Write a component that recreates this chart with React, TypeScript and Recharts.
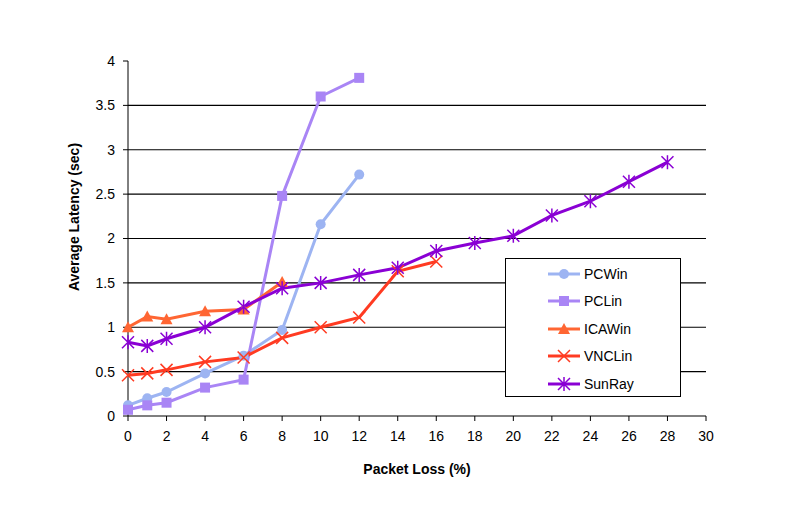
import { CartesianGrid, Label, Line, LineChart, XAxis, YAxis } from "recharts";

const loss = [0, 1, 2, 4, 6, 8, 10, 12, 14, 16, 18, 20, 22, 24, 26, 28];
const pcWin = [0.12, 0.2, 0.27, 0.48, 0.68, 0.97, 2.16, 2.72];
const pcLin = [0.07, 0.12, 0.15, 0.32, 0.41, 2.48, 3.6, 3.81];
const icaWin = [1.0, 1.12, 1.09, 1.18, 1.2, 1.51];
const vncLin = [0.46, 0.48, 0.52, 0.61, 0.66, 0.88, 1.0, 1.11, 1.63, 1.74];
const sunRay = [0.83, 0.79, 0.87, 1.0, 1.23, 1.44, 1.5, 1.59, 1.67, 1.86, 1.95, 2.03, 2.26, 2.42, 2.64, 2.86];
const xTicks = [0, 2, 4, 6, 8, 10, 12, 14, 16, 18, 20, 22, 24, 26, 28, 30];
const yTicks = [0, 0.5, 1, 1.5, 2, 2.5, 3, 3.5, 4];
const gridY = [0.5, 1, 1.5, 2, 2.5, 3, 3.5];

const dados = loss.map((x, i) => ({
  x,
  PCWin: pcWin[i],
  PCLin: pcLin[i],
  ICAWin: icaWin[i],
  VNCLin: vncLin[i],
  SunRay: sunRay[i],
}));

const font = "'Liberation Sans', Arial, sans-serif";

// markers
const Circle = (p: any) =>
  p.cx == null || p.cy == null ? null : <circle key={p.key} cx={p.cx} cy={p.cy} r={5} fill={p.stroke} />;
const Square = (p: any) =>
  p.cx == null || p.cy == null ? null : <rect key={p.key} x={p.cx - 5} y={p.cy - 5} width={10} height={10} fill={p.stroke} />;
const Tri = (p: any) =>
  p.cx == null || p.cy == null ? null : (
    <path key={p.key} d={`M${p.cx},${p.cy - 6}L${p.cx + 6},${p.cy + 5}L${p.cx - 6},${p.cy + 5}Z`} fill={p.stroke} />
  );
const Cross = (p: any) =>
  p.cx == null || p.cy == null ? null : (
    <path key={p.key} d={`M${p.cx - 6},${p.cy - 6}L${p.cx + 6},${p.cy + 6}M${p.cx + 6},${p.cy - 6}L${p.cx - 6},${p.cy + 6}`} stroke={p.stroke} strokeWidth={1.5} fill="none" />
  );
const Star = (p: any) =>
  p.cx == null || p.cy == null ? null : (
    <path key={p.key} d={`M${p.cx - 6},${p.cy - 6}L${p.cx + 6},${p.cy + 6}M${p.cx + 6},${p.cy - 6}L${p.cx - 6},${p.cy + 6}M${p.cx},${p.cy - 7}L${p.cx},${p.cy + 7}`} stroke={p.stroke} strokeWidth={1.5} fill="none" />
  );

const series = [
  { key: "PCWin", cor: "#9db4f2", dot: Circle },
  { key: "PCLin", cor: "#a985f5", dot: Square },
  { key: "ICAWin", cor: "#ff6633", dot: Tri },
  { key: "VNCLin", cor: "#ff3b22", dot: Cross },
  { key: "SunRay", cor: "#8a00d4", dot: Star },
];

const LegendBox = () => (
  <div style={{ position: "absolute", left: 505, top: 258, width: 176, height: 139, border: "1px solid #000", background: "#fff", boxSizing: "border-box", paddingTop: 1 }}>
    {series.map((s) => (
      <div key={s.key} style={{ display: "flex", alignItems: "center", height: 27.5, fontFamily: font, fontSize: 14, color: "#000" }}>
        <svg width={34} height={14} style={{ marginLeft: 42, marginRight: 2 }}>
          <line x1={0} y1={7} x2={32} y2={7} stroke={s.cor} strokeWidth={3} />
          {s.dot({ cx: 16, cy: 7, stroke: s.cor })}
        </svg>
        {s.key}
      </div>
    ))}
  </div>
);

export default function App() {
  return (
    <div style={{ margin: -8, width: 791, height: 522, background: "#fff", position: "relative" }}>
      <LineChart width={791} height={522} data={dados} margin={{ top: 61, right: 85, left: 0, bottom: 0 }}>
        <CartesianGrid vertical={false} horizontalValues={gridY} stroke="#000" strokeWidth={1.2} />
        <XAxis
          dataKey="x"
          type="number"
          domain={[0, 30]}
          ticks={xTicks}
          interval={0}
          height={106}
          stroke="#000"
          tickSize={5}
          tickMargin={10}
          tick={{ fill: "#000", fontSize: 14, fontFamily: font }}
        >
          <Label value="Packet Loss (%)" position="insideBottom" offset={48} style={{ fontFamily: font, fontSize: 14, fontWeight: "bold", fill: "#000" }} />
        </XAxis>
        <YAxis
          type="number"
          domain={[0, 4]}
          ticks={yTicks}
          interval={0}
          width={128}
          stroke="#000"
          tickSize={5}
          tickMargin={8}
          tick={{ fill: "#000", fontSize: 14, fontFamily: font }}
        >
          <Label
            content={() => (
              <text x={79} y={217} transform="rotate(-90 79 217)" textAnchor="middle" style={{ fontFamily: font, fontSize: 14, fontWeight: "bold", fill: "#000" }}>
                Average Latency (sec)
              </text>
            )}
          />
        </YAxis>
        <XAxis xAxisId="top" orientation="top" type="number" dataKey="x" domain={[0, 30]} height={0} tick={false} axisLine={{ stroke: "#808080" }} tickLine={false} />
        <YAxis yAxisId="right" orientation="right" domain={[0, 4]} width={0} tick={false} axisLine={{ stroke: "#808080" }} tickLine={false} />
        {series.map((s) => (
          <Line
            key={s.key}
            dataKey={s.key}
            stroke={s.cor}
            strokeWidth={3}
            dot={s.dot}
            activeDot={false}
            isAnimationActive={false}
          />
        ))}
      </LineChart>
      <LegendBox />
    </div>
  );
}
